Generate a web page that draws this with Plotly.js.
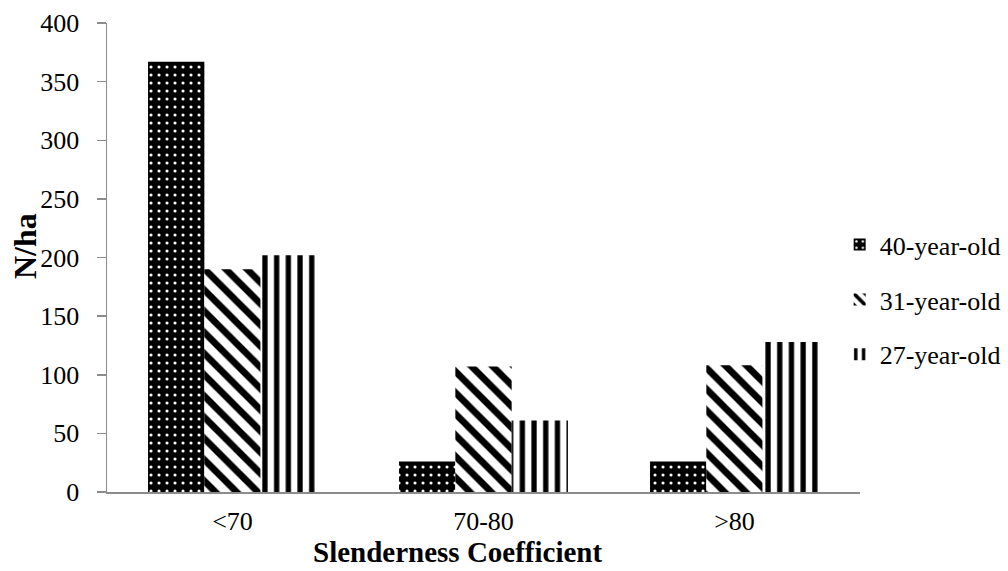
<!DOCTYPE html>
<html>
<head>
<meta charset="utf-8">
<script src="https://cdn.plot.ly/plotly-3.0.1.min.js"></script>
<style>html,body{margin:0;padding:0;background:#fff;}#chart{width:1008px;height:571px;}</style>
</head>
<body>
<div id="chart"></div>
<script>
const categories = ['<70', '70-80', '>80'];
const seriesNames = ['40-year-old', '31-year-old', '27-year-old'];
const values40 = [367, 26, 26];
const values31 = [190, 107, 108];
const values27 = [202, 61, 128];
const yTicks = [0, 50, 100, 150, 200, 250, 300, 350, 400];

const font = '"Times New Roman", "Liberation Serif", Tinos, "DejaVu Serif", serif';
const patterns = [
  {shape: '.', bgcolor: '#000000', fgcolor: '#ffffff', size: 8, solidity: 0.12, fillmode: 'replace'},
  {shape: '\\', bgcolor: '#ffffff', fgcolor: '#000000', size: 15, solidity: 0.45, fillmode: 'replace'},
  {shape: '|', bgcolor: '#ffffff', fgcolor: '#000000', size: 11.7, solidity: 0.45, fillmode: 'replace'}
];
const allValues = [values40, values31, values27];
const traces = allValues.map((vals, i) => ({
  type: 'bar',
  name: seriesNames[i],
  x: categories,
  y: vals,
  legendgroup: 'g' + i,
  marker: {color: patterns[i].bgcolor, pattern: patterns[i], line: {width: 0}},
  hoverinfo: 'x+y+name'
}));

const layout = {
  width: 1008, height: 571,
  margin: {l: 107, r: 148, t: 23, b: 79, autoexpand: false},
  paper_bgcolor: '#ffffff', plot_bgcolor: '#ffffff',
  barmode: 'group', bargap: 0.327, bargroupgap: 0,
  font: {family: font, size: 26, color: '#000000'},
  xaxis: {
    type: 'category',
    showline: true, linecolor: '#8c8c8c', linewidth: 1.5,
    ticks: '', showgrid: false, zeroline: false,
    tickfont: {family: font, size: 26, color: '#000000'},
    ticklabelstandoff: 5,
    automargin: false
  },
  yaxis: {
    range: [0, 400], tickvals: yTicks, ticktext: yTicks.map(String),
    showline: true, linecolor: '#8c8c8c', linewidth: 1.5,
    ticks: 'outside', ticklen: 9, tickcolor: '#8c8c8c', tickwidth: 1.5,
    showgrid: false, zeroline: false,
    tickfont: {family: font, size: 26, color: '#000000'},
    ticklabelstandoff: 12,
    automargin: false
  },
  annotations: [{
    text: '<b>N/ha</b>', xref: 'paper', yref: 'paper', x: 0, y: 0.5245,
    xshift: -82, xanchor: 'center', yanchor: 'middle', textangle: -90,
    showarrow: false, font: {family: font, size: 32, color: '#000000'}
  }, {
    text: '<b>Slenderness Coefficient</b>', xref: 'paper', yref: 'paper', x: 0.5, y: 0,
    xshift: -26, yshift: -60, xanchor: 'center', yanchor: 'middle',
    showarrow: false, font: {family: font, size: 29, color: '#000000'}
  }],
  legend: {
    x: 0.973, xanchor: 'left', y: 0.41, yanchor: 'middle',
    traceorder: 'grouped', tracegroupgap: 18,
    font: {family: font, size: 26, color: '#000000'},
    bgcolor: 'rgba(0,0,0,0)', itemwidth: 30
  },
  showlegend: true
};

Plotly.newPlot('chart', traces, layout, {displayModeBar: false, staticPlot: true});
</script>
</body>
</html>
